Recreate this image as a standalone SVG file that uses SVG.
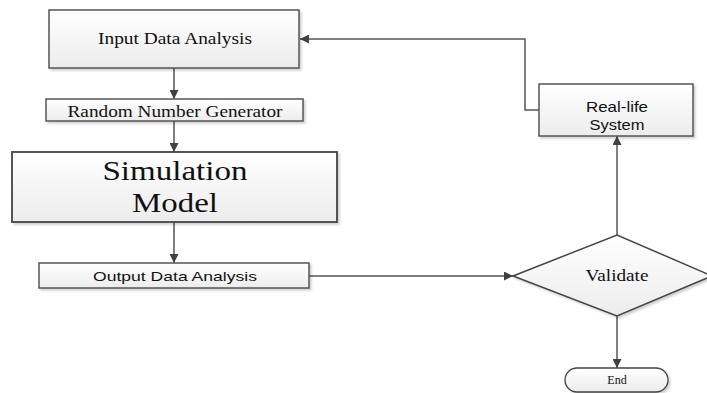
<svg xmlns="http://www.w3.org/2000/svg" width="707" height="393" viewBox="0 0 707 393">
<defs>
<linearGradient id="g" x1="0" y1="0" x2="0" y2="1">
<stop offset="0" stop-color="#ffffff"/>
<stop offset="1" stop-color="#ececec"/>
</linearGradient>
<filter id="sh" x="-5%" y="-10%" width="115%" height="130%">
<feOffset dx="2" dy="2" in="SourceAlpha" result="o"/>
<feGaussianBlur in="o" stdDeviation="1" result="b"/>
<feComponentTransfer in="b" result="c"><feFuncA type="linear" slope="0.18"/></feComponentTransfer>
<feMerge><feMergeNode in="c"/><feMergeNode in="SourceGraphic"/></feMerge>
</filter>
<marker id="ah" viewBox="0 0 10 10" refX="10" refY="5" markerWidth="9" markerHeight="9" markerUnits="userSpaceOnUse" orient="auto">
<path d="M0,0 L10,5 L0,10 z" fill="#404040"/>
</marker>
</defs>
<style>
.box{fill:url(#g);stroke:#555;stroke-width:1.5;filter:url(#sh)}
.serif{font-family:"Liberation Serif","Times New Roman",serif;fill:#111;text-anchor:middle}
.sans{font-family:"Liberation Sans",Arial,sans-serif;fill:#111;text-anchor:middle}
.conn{fill:none;stroke:#555;stroke-width:1.5}
</style>
<rect width="707" height="393" fill="#ffffff"/>
<g id="connectors">
<line class="conn" x1="174" y1="68" x2="174" y2="99" marker-end="url(#ah)"/>
<line class="conn" x1="174" y1="121" x2="174" y2="152" marker-end="url(#ah)"/>
<line class="conn" x1="174" y1="222" x2="174" y2="263" marker-end="url(#ah)"/>
<line class="conn" x1="309" y1="276" x2="513" y2="276" marker-end="url(#ah)"/>
<line class="conn" x1="617" y1="235" x2="617" y2="136" marker-end="url(#ah)"/>
<line class="conn" x1="617" y1="316" x2="617" y2="368" marker-end="url(#ah)"/>
<polyline class="conn" points="539,110 525,110 525,39 300,39" marker-end="url(#ah)"/>
</g>
<g id="input">
<rect class="box" x="49" y="10" width="250" height="58"/>
<text class="serif" x="175" y="44" font-size="17" textLength="154" lengthAdjust="spacingAndGlyphs">Input Data Analysis</text>
</g>
<g id="random">
<rect class="box" x="46" y="99" width="257" height="22"/>
<text class="serif" x="175" y="116.5" font-size="17" textLength="215" lengthAdjust="spacingAndGlyphs">Random Number Generator</text>
</g>
<g id="simulation">
<rect class="box" x="12" y="152" width="325" height="70" style="stroke:#444;stroke-width:1.8"/>
<text class="serif" x="175" y="180" font-size="27" textLength="145" lengthAdjust="spacingAndGlyphs">Simulation</text>
<text class="serif" x="175" y="212" font-size="27" textLength="86" lengthAdjust="spacingAndGlyphs">Model</text>
</g>
<g id="output">
<rect class="box" x="39" y="263" width="270" height="25"/>
<text class="sans" x="175" y="281" font-size="13.5" textLength="164" lengthAdjust="spacingAndGlyphs">Output Data Analysis</text>
</g>
<g id="reallife">
<rect class="box" x="539" y="84" width="154" height="52"/>
<text class="sans" x="617" y="112" font-size="14.5" textLength="62" lengthAdjust="spacingAndGlyphs">Real-life</text>
<text class="sans" x="617" y="130" font-size="14.5" textLength="55" lengthAdjust="spacingAndGlyphs">System</text>
</g>
<g id="validate">
<polygon points="513,276 617,235 712,276 617,316" fill="url(#g)" stroke="#444" stroke-width="1.5" filter="url(#sh)"/>
<text class="serif" x="617" y="281" font-size="17.5" textLength="63" lengthAdjust="spacingAndGlyphs">Validate</text>
</g>
<g id="end">
<rect x="565" y="368" width="103" height="24" rx="12" ry="12" fill="url(#g)" stroke="#444" stroke-width="1.3" filter="url(#sh)"/>
<text class="serif" x="617" y="384" font-size="12">End</text>
</g>
</svg>
